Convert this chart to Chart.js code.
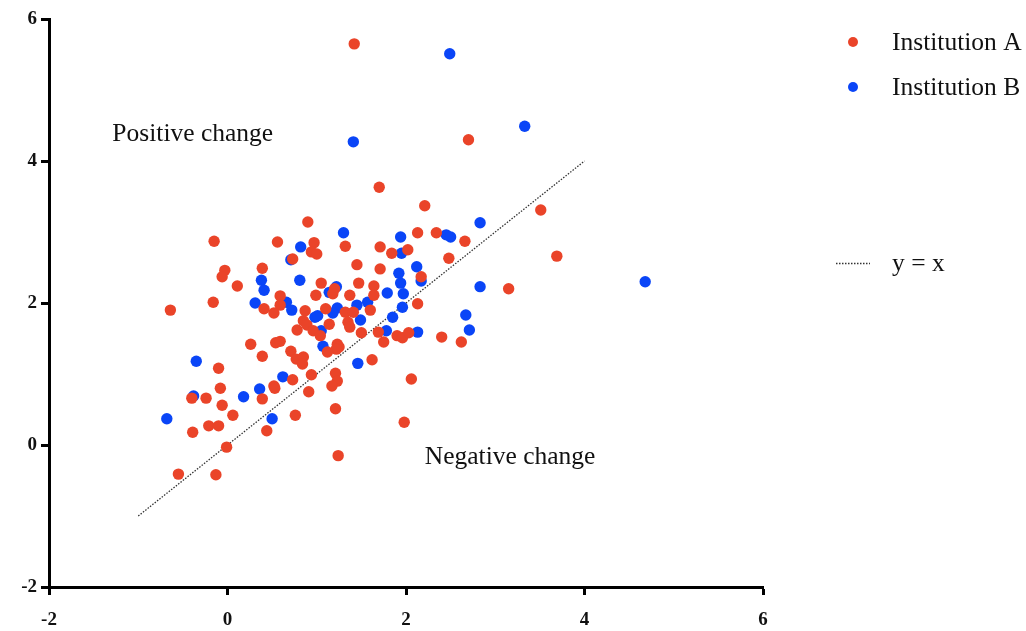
<!DOCTYPE html>
<html>
<head>
<meta charset="utf-8">
<script src="https://cdn.jsdelivr.net/npm/chart.js@4.4.1/dist/chart.umd.min.js"></script>
<style>
  html, body { margin: 0; padding: 0; background: #ffffff; }
  #wrap { width: 1026px; height: 631px; }
</style>
</head>
<body>
<div id="wrap"><canvas id="chart" width="1026" height="631"></canvas></div>
<script>
// Institution A (x = baseline score, y = follow-up score)
const institutionA_x = [1.42, 2.70, 1.70, 2.21, 3.51, 0.90, 2.13, 2.34, 2.66, 2.48, 3.69, 3.15, 2.40, 2.62,
  -0.15, 0.56, 0.73, -0.03, -0.06, 0.39, 0.11, -0.16, -0.64, 0.59, 0.59, 0.41, 0.52, 0.78, 0.26, 0.54,
  0.59, 0.39, 0.71, 0.77, -0.10, 0.73, 0.52, 0.53, -0.08, -0.40, -0.24, 0.39, -0.06, 0.06, 0.76, -0.21,
  -0.10, -0.39, 0.44, -0.01, -0.55, -0.13, 0.97, 0.94, 1.00, 1.32, 1.71, 1.84, 2.02, 1.45, 1.71, 2.17,
  1.05, 1.47, 1.64, 1.20, 1.18, 0.99, 1.37, 1.64, 2.13, 0.87, 1.10, 1.32, 1.41, 1.60, 0.85, 0.89, 1.35,
  1.37, 1.14, 0.96, 1.50, 1.69, 1.90, 1.96, 2.03, 1.75, 1.04, 1.23, 1.25, 1.22, 1.12, 0.85, 0.84, 1.62,
  0.94, 1.21, 1.23, 1.17, 2.06, 0.91, 1.21, 1.98, 1.24];
const institutionA_y = [5.65, 4.30, 3.63, 3.37, 3.31, 3.14, 2.99, 2.99, 2.87, 2.63, 2.66, 2.20, 1.52, 1.45,
  2.87, 2.86, 2.62, 2.46, 2.37, 2.49, 2.24, 2.01, 1.90, 2.10, 1.97, 1.92, 1.86, 1.62, 1.42, 1.44,
  1.46, 1.25, 1.32, 1.21, 1.08, 0.92, 0.83, 0.80, 0.80, 0.66, 0.66, 0.65, 0.56, 0.42, 0.42, 0.27,
  0.27, 0.18, 0.20, -0.03, -0.41, -0.42, 2.85, 2.72, 2.69, 2.80, 2.79, 2.70, 2.75, 2.54, 2.48, 2.37,
  2.28, 2.28, 2.24, 2.20, 2.13, 2.11, 2.11, 2.11, 1.99, 1.89, 1.92, 1.87, 1.87, 1.90, 1.75, 1.69, 1.73,
  1.66, 1.70, 1.61, 1.58, 1.59, 1.54, 1.51, 1.58, 1.45, 1.54, 1.42, 1.38, 1.35, 1.31, 1.24, 1.14, 1.20,
  0.99, 1.01, 0.90, 0.83, 0.93, 0.75, 0.51, 0.32, -0.15];

// Institution B
const institutionB_x = [2.49, 3.33, 1.41, 2.83, 2.45, 2.50, 2.83, 4.68, 2.67, 2.71, 0.71, 0.38, 0.41, 0.31,
  0.66, 0.72, -0.35, 0.62, 0.36, -0.38, 0.18, -0.68, 0.50, 1.30, 1.94, 0.82, 1.95, 2.12, 1.92, 2.17,
  0.81, 1.94, 1.22, 1.14, 1.79, 1.97, 1.57, 1.96, 1.23, 1.45, 0.98, 1.01, 1.18, 1.49, 1.85, 1.05, 1.78,
  2.13, 1.07, 1.46];
const institutionB_y = [5.51, 4.49, 4.27, 3.13, 2.96, 2.93, 2.23, 2.30, 1.83, 1.62, 2.61, 2.32, 2.18, 2.00,
  2.01, 1.90, 1.18, 0.96, 0.79, 0.69, 0.68, 0.37, 0.37, 2.99, 2.93, 2.79, 2.70, 2.51, 2.42, 2.31,
  2.32, 2.28, 2.23, 2.15, 2.14, 2.13, 2.01, 1.94, 1.93, 1.97, 1.80, 1.82, 1.86, 1.76, 1.80, 1.61, 1.61,
  1.59, 1.39, 1.15];

// Reference line y = x
const identity_x = [-1, 4];
const identity_y = [-1, 4];

const axisTicks = [-2, 0, 2, 4, 6];

const seriesNames = ['Institution A', 'Institution B', 'y = x'];
const regionLabels = ['Positive change', 'Negative change'];

const RED = '#EA4429';
const BLUE = '#0A45F7';
const SERIF = '"Liberation Serif", "Times New Roman", serif';
const TEXT_SIZE = 25.5;

const toPoints = (xs, ys) => xs.map((x, i) => ({ x: x, y: ys[i] }));

// Legend and region captions drawn in figure space
const decorations = {
  id: 'decorations',
  afterDraw(chart) {
    const ctx = chart.ctx;
    const xs = chart.scales.x, ys = chart.scales.y;
    ctx.save();
    ctx.fillStyle = '#111';
    ctx.font = TEXT_SIZE + 'px ' + SERIF;
    ctx.textBaseline = 'middle';
    ctx.textAlign = 'left';
    ctx.fillText(regionLabels[0], xs.getPixelForValue(-1.29), ys.getPixelForValue(4.38));
    ctx.fillText(regionLabels[1], xs.getPixelForValue(2.21), ys.getPixelForValue(-0.18));

    // legend
    const lx = 853, tx = 892;
    const rows = [42, 87, 263];
    ctx.fillStyle = RED;
    ctx.beginPath(); ctx.arc(lx, rows[0], 5, 0, Math.PI * 2); ctx.fill();
    ctx.fillStyle = BLUE;
    ctx.beginPath(); ctx.arc(lx, rows[1], 5, 0, Math.PI * 2); ctx.fill();
    ctx.strokeStyle = '#333';
    ctx.lineWidth = 1.3;
    ctx.setLineDash([1.5, 1.5]);
    ctx.beginPath(); ctx.moveTo(836, rows[2] + 0.5); ctx.lineTo(870, rows[2] + 0.5); ctx.stroke();
    ctx.setLineDash([]);
    ctx.fillStyle = '#111';
    seriesNames.forEach((n, i) => ctx.fillText(n, tx, rows[i] + 1));
    ctx.restore();
  }
};

const axisCommon = {
  type: 'linear',
  min: -2,
  max: 6,
  border: { display: true, color: '#000', width: 3 },
  grid: {
    display: true,
    drawOnChartArea: false,
    drawTicks: true,
    tickLength: 8,
    tickWidth: 3,
    tickColor: '#000'
  },
  afterBuildTicks(scale) {
    scale.ticks = axisTicks.map(v => ({ value: v }));
  }
};

new Chart(document.getElementById('chart'), {
  type: 'scatter',
  data: {
    datasets: [
      {
        label: seriesNames[0],
        data: toPoints(institutionA_x, institutionA_y),
        backgroundColor: RED,
        borderColor: RED,
        borderWidth: 0,
        pointRadius: 5.7,
        pointHoverRadius: 5.7
      },
      {
        label: seriesNames[1],
        data: toPoints(institutionB_x, institutionB_y),
        backgroundColor: BLUE,
        borderColor: BLUE,
        borderWidth: 0,
        pointRadius: 5.7,
        pointHoverRadius: 5.7
      },
      {
        label: seriesNames[2],
        type: 'line',
        data: toPoints(identity_x, identity_y),
        borderColor: '#333',
        borderWidth: 1.3,
        borderDash: [1.5, 1.5],
        pointRadius: 0,
        fill: false
      }
    ]
  },
  options: {
    responsive: false,
    animation: false,
    events: [],
    layout: { padding: { top: 19, right: 263, left: 0, bottom: 0 } },
    plugins: {
      legend: { display: false },
      tooltip: { enabled: false }
    },
    scales: {
      x: Object.assign({}, axisCommon, {
        position: 'bottom',
        ticks: {
          color: '#111',
          padding: 14,
          maxRotation: 0,
          font: { family: SERIF, size: 19, weight: 'bold' }
        },
        afterFit(scale) { scale.height = 44; }
      }),
      y: Object.assign({}, axisCommon, {
        position: 'left',
        ticks: {
          color: '#111',
          padding: 4,
          font: { family: SERIF, size: 19, weight: 'bold' }
        },
        afterFit(scale) { scale.width = 49; }
      })
    }
  },
  plugins: [decorations]
});
</script>
</body>
</html>
